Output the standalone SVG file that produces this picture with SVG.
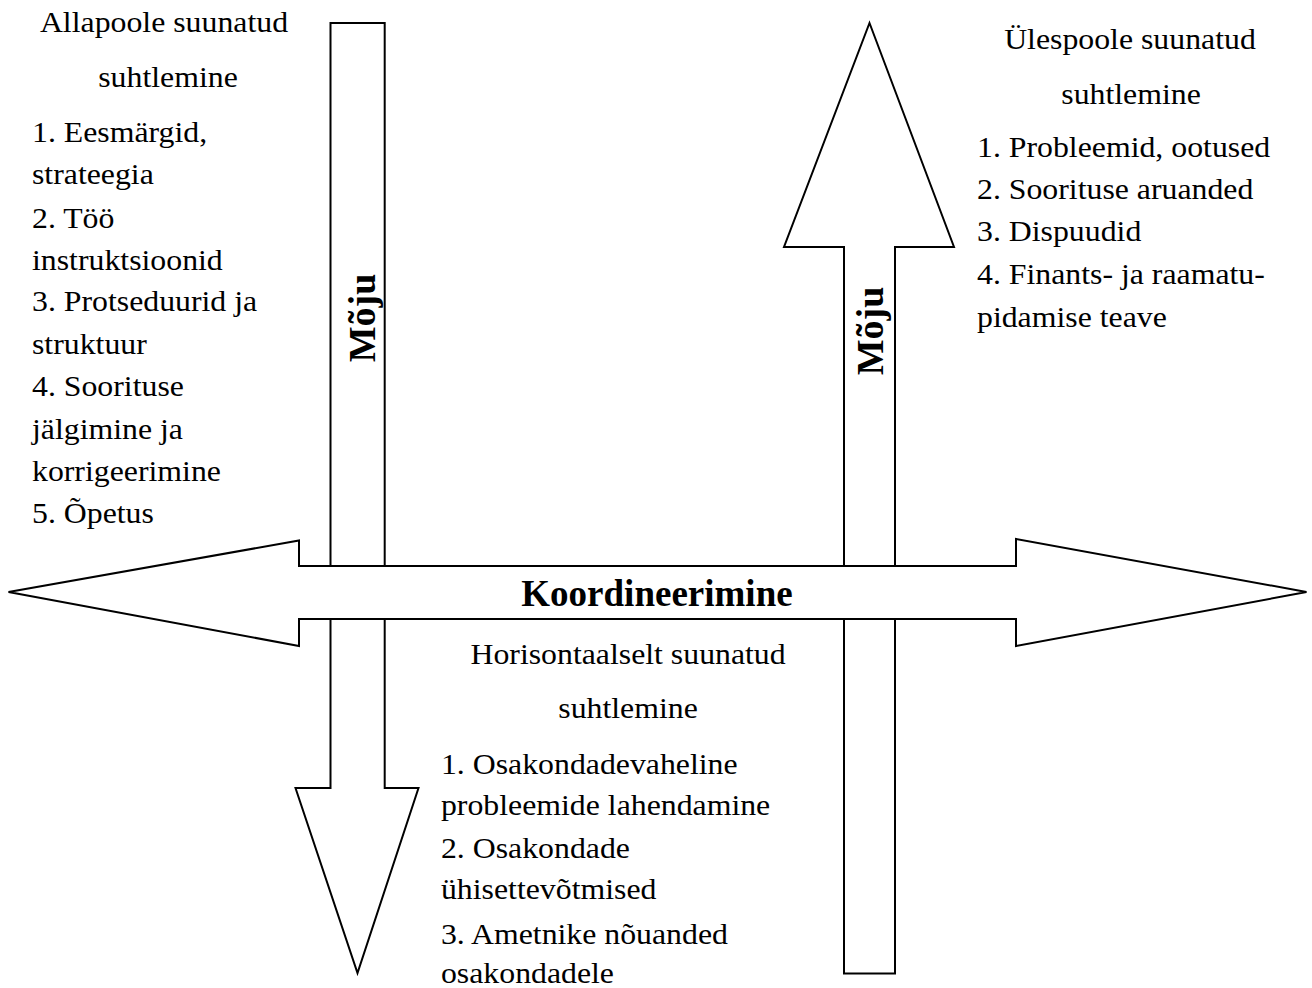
<svg xmlns="http://www.w3.org/2000/svg" width="1312" height="988" viewBox="0 0 1312 988">
<style>
.ar{fill:#fff;stroke:#000;stroke-width:2;stroke-linejoin:miter}
.t{font-family:"Liberation Serif","Times New Roman",serif;font-size:30px;fill:#000}
.c{text-anchor:middle}
.b{font-family:"Liberation Serif","Times New Roman",serif;font-weight:bold;fill:#000;text-anchor:middle}
</style>
<rect width="1312" height="988" fill="#fff"/>
<g id="connectors">
<polygon id="down-arrow" class="ar" points="330.5,23 384.7,23 384.7,788 418.5,788 357.5,973 295.5,788 330.5,788"/>
<polygon id="up-arrow" class="ar" points="869.5,23 954,247 895,247 895,973.5 844,973.5 844,247 784,247"/>
<polygon id="horizontal-arrow" class="ar" points="8.5,592 299,540.5 299,566 1016,566 1016,539 1306.5,592 1016,646 1016,619 299,619 299,646"/>
</g>
<g id="label-moju-down"><text class="b" font-size="38" transform="translate(375,318) rotate(-90)">Mõju</text></g>
<g id="label-moju-up"><text class="b" font-size="38" transform="translate(883,331) rotate(-90)">Mõju</text></g>
<g id="label-koordineerimine"><text class="b" font-size="37" x="657" y="606">Koordineerimine</text></g>
<g id="node-downward" transform="scale(1.06,1)">
<text class="t c" x="154.7" y="32">Allapoole suunatud</text>
<text class="t c" x="158.5" y="87">suhtlemine</text>
<text class="t" x="30.19" y="142">1. Eesmärgid,</text>
<text class="t" x="30.19" y="184">strateegia</text>
<text class="t" x="30.19" y="228">2. Töö</text>
<text class="t" x="30.19" y="270">instruktsioonid</text>
<text class="t" x="30.19" y="311">3. Protseduurid ja</text>
<text class="t" x="30.19" y="354">struktuur</text>
<text class="t" x="30.19" y="396">4. Soorituse</text>
<text class="t" x="30.19" y="439">jälgimine ja</text>
<text class="t" x="30.19" y="481">korrigeerimine</text>
<text class="t" x="30.19" y="523">5. Õpetus</text>
</g>
<g id="node-upward" transform="scale(1.06,1)">
<text class="t c" x="1066" y="49">Ülespoole suunatud</text>
<text class="t c" x="1067" y="104">suhtlemine</text>
<text class="t" x="921.7" y="157">1. Probleemid, ootused</text>
<text class="t" x="921.7" y="199">2. Soorituse aruanded</text>
<text class="t" x="921.7" y="241">3. Dispuudid</text>
<text class="t" x="921.7" y="284">4. Finants- ja raamatu-</text>
<text class="t" x="921.7" y="327">pidamise teave</text>
</g>
<g id="node-horizontal" transform="scale(1.06,1)">
<text class="t c" x="592.5" y="664">Horisontaalselt suunatud</text>
<text class="t c" x="592.5" y="718">suhtlemine</text>
<text class="t" x="416" y="774">1. Osakondadevaheline</text>
<text class="t" x="416" y="815">probleemide lahendamine</text>
<text class="t" x="416" y="858">2. Osakondade</text>
<text class="t" x="416" y="899">ühisettevõtmised</text>
<text class="t" x="416" y="944">3. Ametnike nõuanded</text>
<text class="t" x="416" y="983">osakondadele</text>
</g>
</svg>
